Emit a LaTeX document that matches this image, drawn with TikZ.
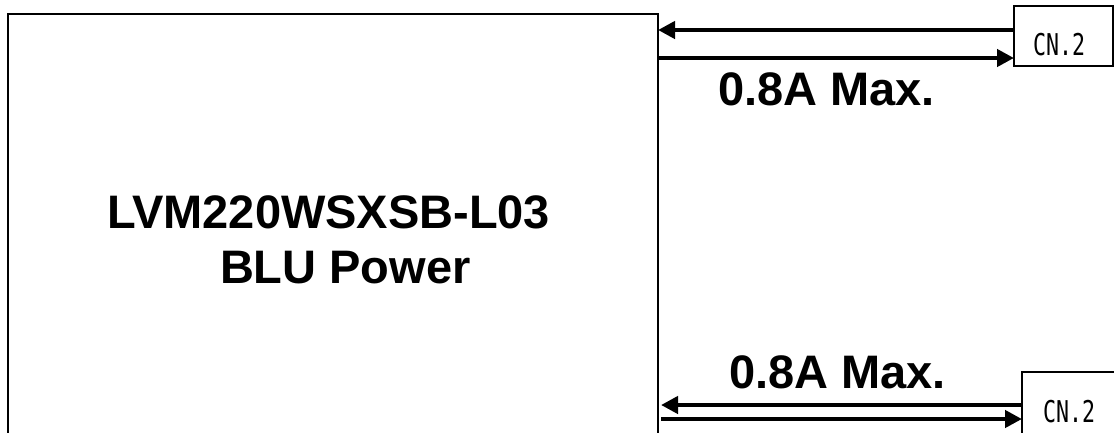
\documentclass[tikz,border=0pt]{standalone}
\usepackage{fontspec}
\setmainfont{Liberation Sans}
\newfontfamily\cnfont{DejaVu Sans Mono}
\usetikzlibrary{arrows.meta,calc}
\begin{document}
\begin{tikzpicture}[x=1pt,y=-1pt,
  mainbox/.style={draw,line width=1.6pt,inner sep=0,outer sep=0},
  cnbox/.style={draw,line width=1.4pt,inner sep=0,outer sep=0},
  arr/.style={line width=4.6pt,-{Triangle[length=17pt,width=17pt]}},
  big/.style={font=\fontsize{47}{55}\selectfont\bfseries,inner sep=0,outer sep=0},
  cn/.style={font=\cnfont\fontsize{24}{24}\selectfont,inner sep=0,outer sep=0}]
\useasboundingbox (0,0) rectangle (1114,432);
\node[mainbox,minimum width=650pt,minimum height=440pt,anchor=north west] (main) at (8,14) {};
\node[cnbox,minimum width=99pt,minimum height=60pt,anchor=north west] (cn1) at (1014,6) {};
\node[cnbox,minimum width=100pt,minimum height=80pt,anchor=north west] (cn2) at (1022,372) {};
\node[cn,anchor=base west] (cn1t) at (1033,55) {\scalebox{0.9}[1.25]{CN.2}};
\node[cn,anchor=base west] (cn2t) at (1043,422) {\scalebox{0.9}[1.25]{CN.2}};
\node[big,anchor=base west] (title1) at (107,228) {LVM220WSXSB-L03};
\node[big,anchor=base west] (title2) at (220,283) {BLU Power};
\node[big,anchor=base west] (amp1) at (718,105) {0.8A Max.};
\node[big,anchor=base west] (amp2) at (729,388) {0.8A Max.};
\coordinate (ya) at (0,30);
\coordinate (yb) at (0,58);
\coordinate (yc) at (0,405);
\coordinate (yd) at (0,419);
\draw[arr] (cn1.west |- ya) -- (main.east |- ya);
\draw[arr] (main.east |- yb) -- (cn1.west |- yb);
\draw[arr,shorten >=3pt] (cn2.west |- yc) -- (main.east |- yc);
\draw[arr,shorten <=3pt] (main.east |- yd) -- (cn2.west |- yd);
\end{tikzpicture}
\end{document}
